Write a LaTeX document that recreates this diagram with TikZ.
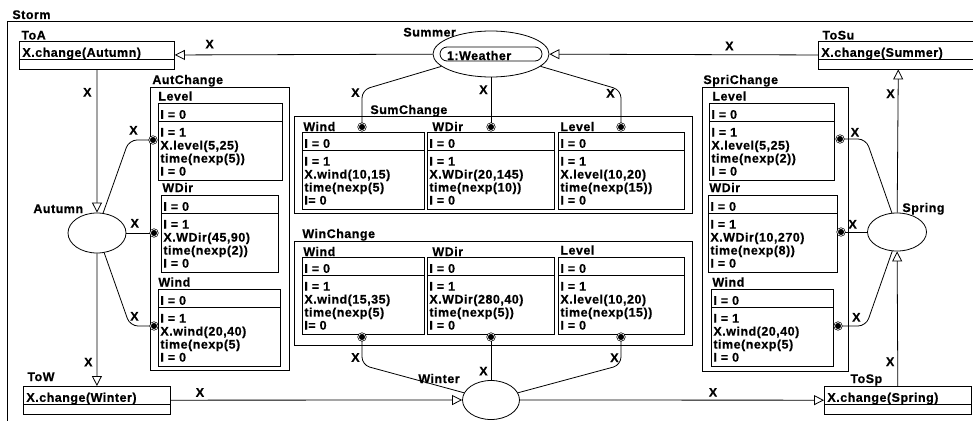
\documentclass[tikz,border=0pt]{standalone}
\usepackage{fontspec}
\newfontfamily\dgmfam{Liberation Sans}[BoldFont={Liberation Sans Bold}, LetterSpace=4, FakeBold=0.5]
\usepackage{tikz}
\usetikzlibrary{shapes.geometric, shapes.multipart, arrows.meta}
\newcommand{\dgm}{\dgmfam\bfseries\fontsize{12.5}{13}\selectfont}
\newcommand{\hdtxt}[1]{\raisebox{0pt}[13pt][0pt]{#1}}
\newcommand{\bdtxt}[4]{\raisebox{0pt}[13pt][41pt]{\begin{tabular}[t]{@{}l@{}}#1\\#2\\#3\\#4\end{tabular}}}

\tikzset{
  cls/.style={rectangle split, rectangle split parts=2, rectangle split part align={left},
    rectangle split empty part height=5pt, draw, anchor=north west,
    inner xsep=3pt, inner ysep=2pt, font=\dgm},
  stbox/.style={rectangle split, rectangle split parts=2, rectangle split part align={left},
    draw, anchor=north west, inner xsep=2pt, inner ysep=2pt, font=\dgm},
  grp/.style={draw, anchor=north west, inner sep=0pt},
  place/.style={ellipse, draw, inner sep=0pt},
  port/.style={circle, fill=black, draw=black, double=white, double distance=0.6pt,
    line width=0.7pt, inner sep=0pt, minimum size=7pt},
  tag/.style={anchor=base west, inner sep=0pt, font=\dgm},
  xl/.style={inner sep=0pt, font=\dgm},
  flow/.style={-{Triangle[open, length=10pt, width=10pt]}},
  wire/.style={rounded corners=8pt}
}

\begin{document}
\begin{tikzpicture}[x=1pt, y=-1pt, line width=0.8pt]
  \useasboundingbox (0,0) rectangle (973,420);
  \clip (0,0) rectangle (973,420);

  % frame and groups
  \node[grp, minimum width=990pt, minimum height=430pt] (storm) at (7,21) {};
  \node[tag] (storm-t) at (12,19) {Storm};
  \node[grp, minimum width=139pt, minimum height=283pt] (autchg) at (150,87) {};
  \node[tag] (autchg-t) at (152,84) {AutChange};
  \node[grp, minimum width=398pt, minimum height=97pt] (sumchg) at (294,116) {};
  \node[tag] (sumchg-t) at (370,114) {SumChange};
  \node[grp, minimum width=398pt, minimum height=104pt] (winchg) at (294,241) {};
  \node[tag] (winchg-t) at (302,238) {WinChange};
  \node[grp, minimum width=146pt, minimum height=284pt] (sprchg) at (702,87) {};
  \node[tag] (sprchg-t) at (703,84) {SpriChange};

  % transitions
  \node[cls, minimum width=155pt] (toa) at (19,41) {\hdtxt{X.change(Autumn)}\nodepart{two}};
  \node[tag] (toa-t) at (21,39.5) {ToA};
  \node[cls, minimum width=160pt] (tosu) at (818,41) {\hdtxt{X.change(Summer)}\nodepart{two}};
  \node[tag] (tosu-t) at (822,39.5) {ToSu};
  \node[cls, minimum width=147pt] (tow) at (23,386) {\hdtxt{X.change(Winter)}\nodepart{two}};
  \node[tag] (tow-t) at (27,381) {ToW};
  \node[cls, minimum width=147pt] (tosp) at (824,386) {\hdtxt{X.change(Spring)}\nodepart{two}};
  \node[tag] (tosp-t) at (850,383) {ToSp};

  % places
  \node[place, minimum width=116pt, minimum height=46pt] (summer) at (491,54) {};
  \node[draw, rounded corners=7pt, minimum width=102pt, minimum height=14pt, inner xsep=7pt,
        inner ysep=0pt, text width=88pt, align=left, text height=12pt, text depth=0pt,
        font=\dgm] (weather) at (491,54) {1:Weather};
  \node[tag] (summer-t) at (403,36.5) {Summer};
  \node[place, minimum width=58pt, minimum height=40pt] (autumn) at (97,233) {};
  \node[tag] (autumn-t) at (33,213) {Autumn};
  \node[place, minimum width=57pt, minimum height=39pt] (winter) at (491,400) {};
  \node[tag] (winter-t) at (418,383) {Winter};
  \node[place, minimum width=59pt, minimum height=38pt] (spring) at (897,232) {};
  \node[tag] (spring-t) at (902,212) {Spring};

  % AutChange
  \node[stbox, minimum width=124pt] (al) at (158,103)
    {\hdtxt{I = 0}\nodepart{two}\bdtxt{I = 1}{X.level(5,25)}{time(nexp(5))}{I = 0}};
  \node[tag] (al-t) at (158,100.5) {Level};
  \node[stbox, minimum width=117pt] (ad) at (161,195)
    {\hdtxt{I = 0}\nodepart{two}\bdtxt{I = 1}{X.WDir(45,90)}{time(nexp(2))}{I = 0}};
  \node[tag] (ad-t) at (162,192) {WDir};
  \node[stbox, minimum width=122pt] (aw) at (158,289)
    {\hdtxt{I = 0}\nodepart{two}\bdtxt{I = 1}{X.wind(20,40)}{time(nexp(5)}{I = 0}};
  \node[tag] (aw-t) at (158,286.5) {Wind};

  % SumChange
  \node[stbox, minimum width=122pt] (sw) at (302,132)
    {\hdtxt{I = 0}\nodepart{two}\bdtxt{I = 1}{X.wind(10,15)}{time(nexp(5)}{I= 0}};
  \node[tag] (sw-t) at (303,131) {Wind};
  \node[stbox, minimum width=127pt] (sd) at (427,132)
    {\hdtxt{I = 0}\nodepart{two}\bdtxt{I = 1}{X.WDir(20,145)}{time(nexp(10))}{I = 0}};
  \node[tag] (sd-t) at (432,131) {WDir};
  \node[stbox, minimum width=126pt] (sl) at (558,132)
    {\hdtxt{I = 0}\nodepart{two}\bdtxt{I = 1}{X.level(10,20)}{time(nexp(15))}{I = 0}};
  \node[tag] (sl-t) at (560,131) {Level};

  % WinChange
  \node[stbox, minimum width=122pt] (ww) at (302,257)
    {\hdtxt{I = 0}\nodepart{two}\bdtxt{I = 1}{X.wind(15,35)}{time(nexp(5)}{I= 0}};
  \node[tag] (ww-t) at (303,256) {Wind};
  \node[stbox, minimum width=127pt] (wd) at (427,257)
    {\hdtxt{I = 0}\nodepart{two}\bdtxt{I = 1}{X.WDir(280,40)}{time(nexp(5))}{I = 0}};
  \node[tag] (wd-t) at (432,256) {WDir};
  \node[stbox, minimum width=126pt] (wl) at (558,257)
    {\hdtxt{I = 0}\nodepart{two}\bdtxt{I = 1}{X.level(10,20)}{time(nexp(15))}{I = 0}};
  \node[tag] (wl-t) at (560,254.5) {Level};

  % SpriChange
  \node[stbox, minimum width=125pt] (pl) at (709,103)
    {\hdtxt{I = 0}\nodepart{two}\bdtxt{I = 1}{X.level(5,25)}{time(nexp(2))}{I = 0}};
  \node[tag] (pl-t) at (712,100.5) {Level};
  \node[stbox, minimum width=129pt] (pd) at (708,195)
    {\hdtxt{I = 0}\nodepart{two}\bdtxt{I = 1}{X.WDir(10,270)}{time(nexp(8))}{I = 0}};
  \node[tag] (pd-t) at (709,192) {WDir};
  \node[stbox, minimum width=122pt] (pw) at (711,289)
    {\hdtxt{I = 0}\nodepart{two}\bdtxt{I = 1}{X.wind(20,40)}{time(nexp(5)}{I = 0}};
  \node[tag] (pw-t) at (712,286.5) {Wind};

  % ports
  \node[port] (alp) at (153,140) {};
  \node[port] (adp) at (154,233) {};
  \node[port] (awp) at (154,326) {};
  \node[port] (swp) at (362,127) {};
  \node[port] (sdp) at (491,127) {};
  \node[port] (slp) at (621,127) {};
  \node[port] (wwp) at (362,337) {};
  \node[port] (wdp) at (491,337) {};
  \node[port] (wlp) at (621,337) {};
  \node[port] (plp) at (840,139) {};
  \node[port] (pdp) at (841,232) {};
  \node[port] (pwp) at (838,326) {};

  % season changes
  \draw[flow] (tosu) -- node[xl, pos=0.33, above=4pt] (x1) {X} (summer);
  \draw[flow] (summer) -- node[xl, pos=0.865, above=6pt] (x2) {X} (toa);
  \draw[flow] (toa) -- node[xl, pos=0.16, left=5pt] (x3) {X} (autumn);
  \draw[flow] (autumn) -- node[xl, pos=0.82, left=4pt] (x4) {X} (tow);
  \draw[flow] (tow) -- node[xl, pos=0.1, above=3pt] (x5) {X} (winter);
  \draw[flow] (winter) -- node[xl, pos=0.635, above=3pt] (x6) {X} (tosp);
  \draw[flow] (tosp) -- node[xl, pos=0.18, left=3pt] (x7) {X} (spring);
  \draw[flow] (spring) -- node[xl, pos=0.83, left=3pt] (x8) {X} (tosu);

  % wires to the ports
  \draw[wire] (swp) -- ++(0,-37) node[xl, pos=0.92, left=2pt] (x9) {X} -- (summer.194);
  \draw[wire] (sdp) -- node[xl, pos=0.73, left=3pt] (x10) {X} (summer);
  \draw[wire] (slp) -- ++(0,-37) node[xl, pos=0.9, left=6pt] (x11) {X} -- (summer.-14);
  \draw[wire] (wwp) -- ++(0,28) node[xl, pos=0.69, left=2pt] (x12) {X} -- (winter.165);
  \draw[wire] (wdp) -- node[xl, pos=0.77, left=3pt] (x13) {X} (winter);
  \draw[wire] (wlp) -- ++(0,28) node[xl, pos=0.7, left=2pt] (x14) {X} -- (winter.15);
  \draw[wire] (alp) -- ++(-24,0) node[xl, pos=0.78, above=5pt] (x15) {X} -- (autumn.73);
  \draw[wire] (adp) -- node[xl, pos=0.65, above=5pt] (x16) {X} (autumn);
  \draw[wire] (awp) -- ++(-24,0) node[xl, pos=0.78, above=5pt] (x17) {X} -- (autumn.-70);
  \draw[wire] (plp) -- ++(26,0) node[xl, pos=0.5, above=2pt] (x18) {X} -- (spring.105);
  \draw[wire] (pdp) -- node[xl, pos=0.35, above=3pt] (x19) {X} (spring);
  \draw[wire] (pwp) -- ++(28,0) node[xl, pos=0.6, above=4pt] (x20) {X} -- (spring.256);
\end{tikzpicture}
\end{document}
